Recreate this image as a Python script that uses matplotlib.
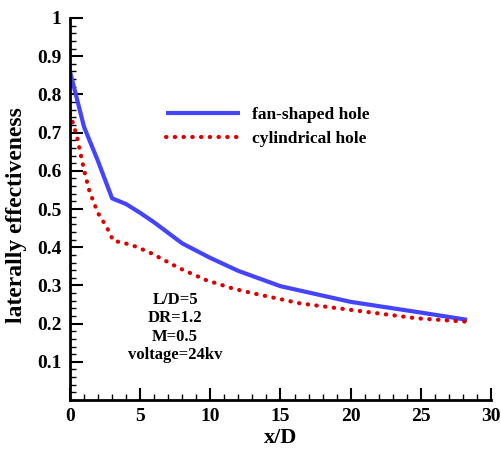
import matplotlib
matplotlib.use("Agg")
import matplotlib.pyplot as plt
from matplotlib.ticker import MultipleLocator

# data
x_fan = [0, 1, 2, 3, 4, 5, 6, 8, 10, 12, 15, 20, 25, 28.3]
y_fan = [0.86, 0.715, 0.625, 0.528, 0.513, 0.49, 0.465, 0.41, 0.372, 0.338, 0.298, 0.257, 0.229, 0.21]

x_cyl = [0, 0.5, 0.85, 1.1, 1.4, 2.0, 2.6, 3.1, 3.7, 4.75, 5.8, 7.8, 9.7, 11.6, 13.1, 16.4, 20.0, 24.7, 28.3]
y_cyl = [0.75, 0.69, 0.628, 0.587, 0.545, 0.489, 0.454, 0.416, 0.413, 0.401, 0.384, 0.345, 0.314, 0.292, 0.279, 0.253, 0.236, 0.214, 0.205]

x_ticks = [0, 5, 10, 15, 20, 25, 30]
y_ticks = [0.1, 0.2, 0.3, 0.4, 0.5, 0.6, 0.7, 0.8, 0.9, 1]
y_labels = ["0.1", "0.2", "0.3", "0.4", "0.5", "0.6", "0.7", "0.8", "0.9", "1"]

case_info = ["L/D=5", "DR=1.2", "M=0.5", "voltage=24kv"]

plt.rcParams["font.family"] = ["Liberation Serif", "DejaVu Serif"]
plt.rcParams["font.weight"] = "bold"

fig = plt.figure(figsize=(5.01, 4.5), dpi=100)
ax = fig.add_axes([0.1397, 0.111, 0.8403, 0.849])

ax.plot(x_fan, y_fan, color="#4444ff", lw=3, solid_capstyle="butt", label="fan-shaped hole")
ax.plot(x_cyl, y_cyl, color="#dd0000", lw=3, linestyle=(0, (0.1, 2)),
        dash_capstyle="round", label="cylindrical hole")

ax.set_xlim(0, 30)
ax.set_ylim(0, 1)
ax.set_xticks(x_ticks)
ax.set_yticks(y_ticks)
ax.set_yticklabels(y_labels)
ax.xaxis.set_minor_locator(MultipleLocator(1))
ax.yaxis.set_minor_locator(MultipleLocator(0.02))

for side in ["top", "right"]:
    ax.spines[side].set_visible(False)
for side in ["left", "bottom"]:
    ax.spines[side].set_linewidth(2)

ax.tick_params(which="major", direction="in", length=9, width=1.5, labelsize=14, pad=6)
ax.tick_params(which="minor", direction="in", length=4.5, width=1)

ax.set_xlabel("x/D", fontsize=16, fontweight="bold", labelpad=2)
ax.set_ylabel("laterally effectiveness", fontsize=17, fontweight="bold")
ax.yaxis.set_label_coords(-0.102, 0.484)

ax.legend(loc="upper left", bbox_to_anchor=(0.19, 0.808), frameon=False, fontsize=12.5,
          handlelength=4.3, handletextpad=0.7, labelspacing=0.45)

ax.text(7.5, 0.19, "\n".join(case_info), ha="center", va="center", fontsize=12,
        fontweight="bold", linespacing=1.2)

fig.savefig("out.png", dpi=100)
